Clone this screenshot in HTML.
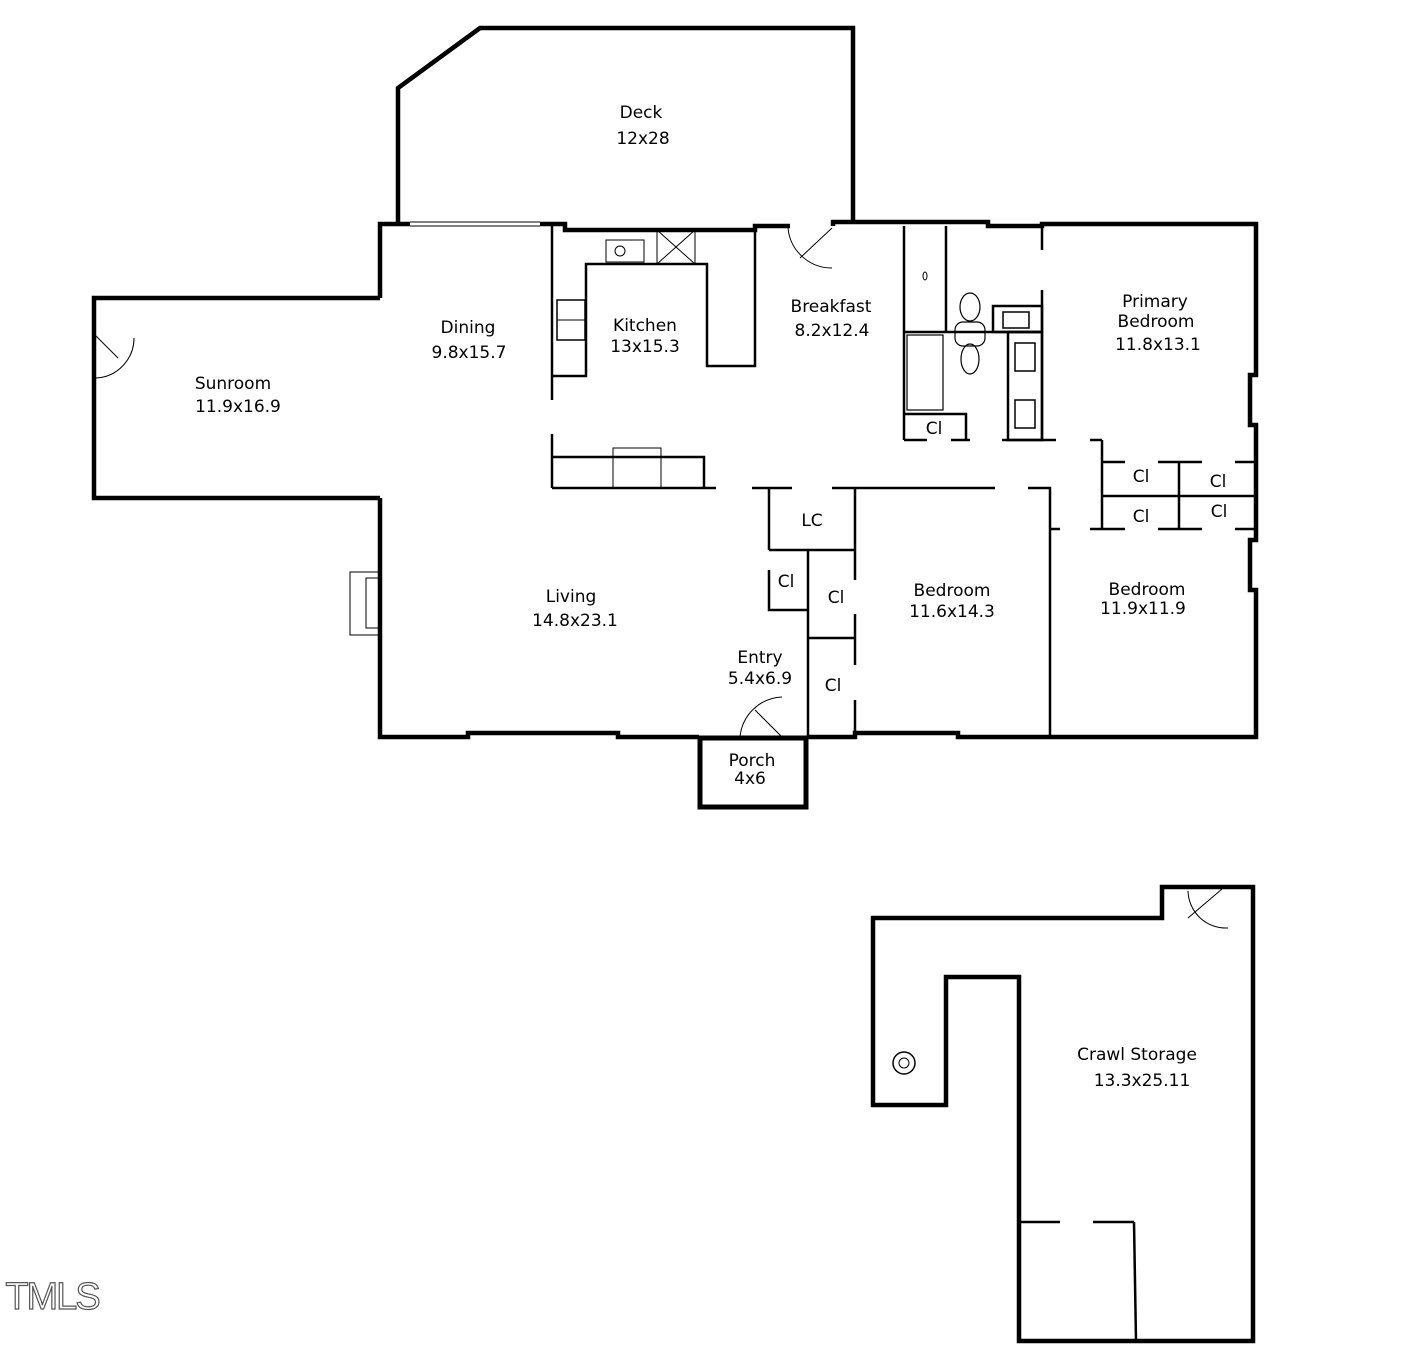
<!DOCTYPE html>
<html><head><meta charset="utf-8"><style>
html,body{margin:0;padding:0;background:#fff}
svg{display:block}
text{font-family:"DejaVu Sans","Liberation Sans",sans-serif;font-size:17px;fill:#000;text-anchor:middle}
</style></head><body>
<svg width="1410" height="1358" viewBox="0 0 1410 1358" xmlns="http://www.w3.org/2000/svg">
<g fill="none" stroke="#000" stroke-width="4.5" stroke-linejoin="miter">
<polyline points="398,222 398,88 480,28 853,28 853,222"/>
<polyline points="380,298 380,224 410,224"/>
<polyline points="540,224 565,224 565,230 755,230 755,226 790,226"/>
<polyline points="833,226 833,222 988,222 988,226 1042,226 1042,224 1256,224 1256,375 1250,375 1250,425 1256,425 1256,540 1250,540 1250,590 1256,590 1256,737 1050,737 958,737 958,733 855,733 855,737 808,737"/>
<polyline points="699,737 618,737 618,733 468,733 468,737 380,737 380,498"/>
<polyline points="380,298 94,298 94,498 380,498"/>
<rect x="700" y="738" width="106" height="69" stroke-width="5"/>
<polygon points="873,918 1162,918 1162,887 1253,887 1253,1341 1019,1341 1019,977 946,977 946,1105 873,1105"/>
</g>
<g fill="none" stroke="#000" stroke-width="2.5">
<line x1="410" y1="222" x2="540" y2="222" stroke-width="1"/>
<line x1="410" y1="226" x2="540" y2="226" stroke-width="1"/>
<line x1="552" y1="226" x2="552" y2="400"/>
<polyline points="552,376 586,376 586,264 707,264 707,366 755,366 755,226"/>
<rect x="606" y="240" width="38" height="22" stroke-width="1"/>
<circle cx="620" cy="251" r="5" stroke-width="1"/>
<rect x="657" y="230" width="38" height="34" stroke-width="1"/>
<line x1="657" y1="230" x2="695" y2="264" stroke-width="1"/>
<line x1="695" y1="230" x2="657" y2="264" stroke-width="1"/>
<rect x="557" y="300" width="28" height="40" stroke-width="1.5"/>
<line x1="557" y1="320" x2="585" y2="320" stroke-width="1"/>
<line x1="552" y1="434" x2="552" y2="488"/>
<polyline points="552,457 704,457 704,488"/>
<line x1="552" y1="488" x2="716" y2="488"/>
<rect x="613" y="448" width="48" height="40" stroke-width="1"/>
<line x1="832" y1="228" x2="800" y2="258" stroke-width="1"/>
<path d="M788,228 A44,44 0 0 0 832,268" stroke-width="1"/>
<line x1="96" y1="336" x2="118" y2="358" stroke-width="1"/>
<path d="M134,338 A40,40 0 0 1 96,378" stroke-width="1"/>
<line x1="782" y1="737" x2="755" y2="710" stroke-width="1"/>
<path d="M740,737 A44,44 0 0 1 782,697" stroke-width="1"/>
<line x1="1188" y1="918" x2="1222" y2="889" stroke-width="1"/>
<path d="M1188,891 A38,38 0 0 0 1228,928" stroke-width="1"/>
<line x1="904" y1="226" x2="904" y2="440"/>
<line x1="946" y1="226" x2="946" y2="332"/>
<line x1="904" y1="332" x2="1042" y2="332"/>
<rect x="907" y="335" width="36" height="75" stroke-width="1.2"/>
<polyline points="904,414 966,414 966,440"/>
<line x1="904" y1="440" x2="927" y2="440"/>
<line x1="951" y1="440" x2="970" y2="440"/>
<rect x="1008" y="332" width="34" height="108"/>
<rect x="993" y="306" width="49" height="26"/>
<rect x="1015" y="343" width="20" height="28" stroke-width="1.5"/>
<rect x="1015" y="400" width="20" height="28" stroke-width="1.5"/>
<rect x="1003" y="312" width="26" height="16" stroke-width="1.5"/>
<line x1="1002" y1="440" x2="1056" y2="440"/>
<ellipse cx="970" cy="307" rx="10" ry="14" stroke-width="1.2"/>
<ellipse cx="970" cy="359" rx="9" ry="15" stroke-width="1.2"/>
<rect x="955" y="322" width="30" height="24" rx="8" stroke-width="1.2"/>
<ellipse cx="925" cy="276" rx="2" ry="4" stroke-width="1"/>
<line x1="1042" y1="228" x2="1042" y2="250"/>
<line x1="1042" y1="290" x2="1042" y2="440"/>
<line x1="752" y1="488" x2="792" y2="488"/>
<line x1="832" y1="488" x2="995" y2="488"/>
<polyline points="1028,488 1050,488 1050,737"/>
<line x1="769" y1="488" x2="769" y2="550"/>
<line x1="769" y1="550" x2="855" y2="550"/>
<line x1="855" y1="488" x2="855" y2="580"/>
<line x1="855" y1="614" x2="855" y2="665"/>
<line x1="855" y1="700" x2="855" y2="737"/>
<polyline points="769,570 769,610 808,610"/>
<line x1="808" y1="550" x2="808" y2="737"/>
<line x1="808" y1="638" x2="855" y2="638"/>
<line x1="1090" y1="440" x2="1102" y2="440"/>
<line x1="1102" y1="440" x2="1102" y2="530"/>
<line x1="1102" y1="462" x2="1125" y2="462"/>
<line x1="1158" y1="462" x2="1202" y2="462"/>
<line x1="1235" y1="462" x2="1256" y2="462"/>
<line x1="1102" y1="496" x2="1256" y2="496"/>
<line x1="1090" y1="529" x2="1125" y2="529"/>
<line x1="1158" y1="529" x2="1202" y2="529"/>
<line x1="1235" y1="529" x2="1256" y2="529"/>
<line x1="1179" y1="462" x2="1179" y2="529"/>
<line x1="1050" y1="529" x2="1060" y2="529"/>
<rect x="350" y="572" width="30" height="63" stroke-width="1"/>
<rect x="366" y="578" width="14" height="50" stroke-width="1"/>
<line x1="1019" y1="1222" x2="1060" y2="1222"/>
<line x1="1093" y1="1222" x2="1134" y2="1222"/>
<line x1="1134" y1="1222" x2="1136" y2="1341"/>
<circle cx="904" cy="1063" r="11" stroke-width="1.5"/>
<circle cx="904" cy="1063" r="5" stroke-width="1"/>
</g>
<text x="641" y="118">Deck</text><text x="643" y="144">12x28</text>
<text x="233" y="389">Sunroom</text><text x="238" y="412">11.9x16.9</text>
<text x="468" y="333">Dining</text><text x="469" y="358">9.8x15.7</text>
<text x="645" y="331">Kitchen</text><text x="645" y="352">13x15.3</text>
<text x="831" y="312">Breakfast</text><text x="832" y="336">8.2x12.4</text>
<text x="1155" y="307">Primary</text><text x="1156" y="327">Bedroom</text><text x="1158" y="350">11.8x13.1</text>
<text x="934" y="434">Cl</text>
<text x="1141" y="482">Cl</text><text x="1218" y="487">Cl</text>
<text x="1141" y="522">Cl</text><text x="1219" y="517">Cl</text>
<text x="812" y="526">LC</text><text x="786" y="587">Cl</text><text x="836" y="603">Cl</text><text x="833" y="691">Cl</text>
<text x="571" y="602">Living</text><text x="575" y="626">14.8x23.1</text>
<text x="760" y="663">Entry</text><text x="760" y="684">5.4x6.9</text>
<text x="952" y="596">Bedroom</text><text x="952" y="617">11.6x14.3</text>
<text x="1147" y="595">Bedroom</text><text x="1143" y="614">11.9x11.9</text>
<text x="752" y="766">Porch</text><text x="750" y="784">4x6</text>
<text x="1137" y="1060">Crawl Storage</text><text x="1142" y="1086">13.3x25.11</text>
<text x="52" y="1309" style="font-size:38px;fill:#fff;stroke:#555;stroke-width:1.2;font-family:'Liberation Sans',sans-serif;letter-spacing:-2px">TMLS</text>
</svg>
</body></html>
